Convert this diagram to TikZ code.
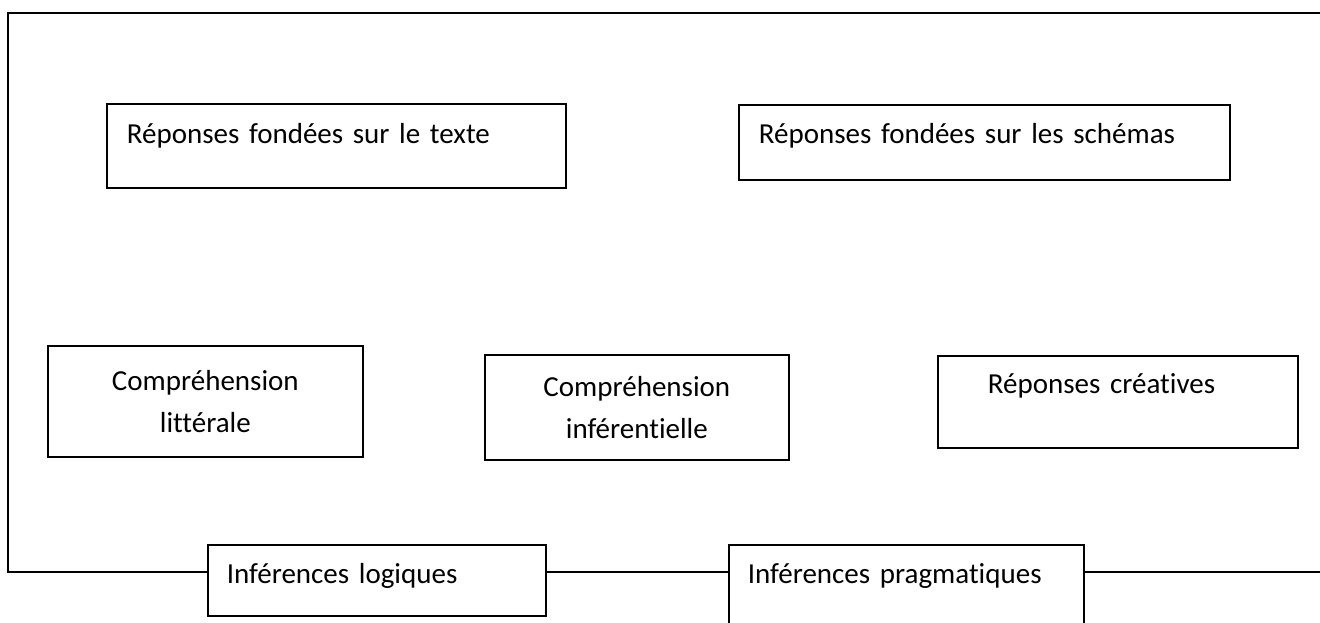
\documentclass[tikz,border=0pt]{standalone}
\usepackage{fontspec}
\setmainfont{Carlito}[Ligatures=NoCommon]
\begin{document}
\begin{tikzpicture}[x=1pt,y=-1pt,
  box/.style={draw, line width=1.7pt, inner sep=0pt, anchor=north west},
  leftbox/.style={box, align=left, inner xsep=20pt},
  midbox/.style={box, align=center},
  frame/.style={line width=1.7pt}]
  \fontsize{29pt}{42pt}\selectfont
  \spaceskip=0.18em
  \useasboundingbox (0,0) rectangle (1320,623);

  % upper row
  \node[leftbox, text width=419pt, text height=40pt, text depth=44pt]
    (texte) at (106,103) {Réponses fondées sur le texte};
  \node[leftbox, text width=451pt, text height=39pt, text depth=36pt]
    (schemas) at (738,104) {Réponses fondées sur les schémas};

  % middle row
  \node[midbox, minimum width=315pt, minimum height=111pt]
    (litt) at (47,345) {Compréhension\\littérale};
  \node[midbox, minimum width=304pt, minimum height=105pt]
    (infer) at (484,354) {Compréhension\\inférentielle};
  \node[leftbox, inner xsep=50pt, text width=260pt, text height=38pt, text depth=54pt]
    (creat) at (937,355) {Réponses créatives};

  % lower row, sitting on the frame line
  \node[leftbox, inner xsep=19pt, text width=300pt, text height=39pt, text depth=32pt]
    (logiq) at (207,544) {Inférences logiques};
  \node[leftbox, inner xsep=19pt, text width=317pt, text height=39pt, text depth=57pt]
    (prag) at (728,544) {Inférences pragmatiques};

  % outer frame
  \coordinate (tr) at (1320,13);
  \coordinate (tl) at (8,13);
  \coordinate (bl) at (8,572);
  \coordinate (br) at (1320,572);
  \draw[frame] (tr) -- (tl) -- (bl) -- (bl -| logiq.west);
  \draw[frame] (logiq.east |- bl) -- (prag.west |- bl);
  \draw[frame] (prag.east |- bl) -- (br);
\end{tikzpicture}
\end{document}
